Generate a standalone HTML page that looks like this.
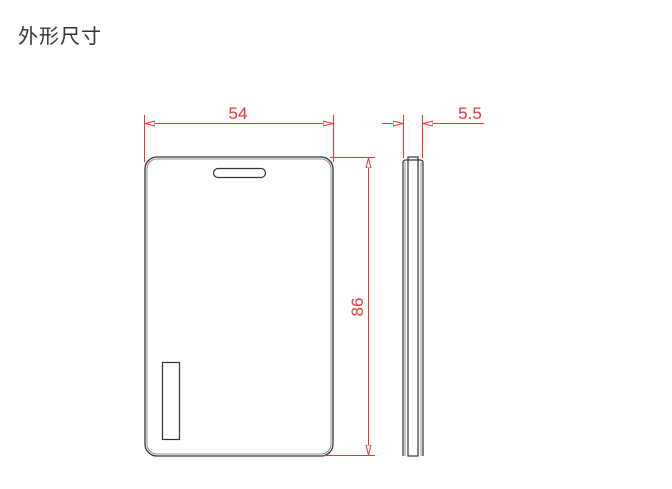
<!DOCTYPE html>
<html><head><meta charset="utf-8"><style>
html,body{margin:0;padding:0;background:#fff;width:672px;height:489px;overflow:hidden}
.t{position:absolute;left:18px;top:20px;font:20px "Liberation Sans","Noto Sans CJK SC",sans-serif;color:#333;letter-spacing:1px}
</style></head><body>
<div class="t">外形尺寸</div>
<svg width="672" height="489" style="position:absolute;left:0;top:0" xmlns="http://www.w3.org/2000/svg">
<defs>
<marker id="a" viewBox="0 0 10 6" refX="10" refY="3" markerWidth="10" markerHeight="6" markerUnits="userSpaceOnUse" orient="auto-start-reverse"><path d="M0,0.5 L10,3 L0,5.5 Z" fill="#fff" stroke="#e33" stroke-width="1"/></marker>
</defs>
<g fill="none" stroke="#333">
<rect x="145" y="157" width="188" height="299" rx="12" stroke-width="1.3"/>
<rect x="147" y="159" width="184" height="295" rx="10" stroke-width="0.8" stroke="#777"/>
<rect x="213.5" y="168.5" width="52" height="9" rx="4.5" stroke-width="1.2"/>
<rect x="162.5" y="362.5" width="17" height="77" stroke-width="1.2"/>
<path d="M403,456 V163 Q403,160 406,160 H420 Q423,160 423,163 V456" stroke-width="1.2"/>
<path d="M405,456 V162 M421,456 V162" stroke-width="0.8" stroke="#777"/>
<rect x="408" y="157" width="10" height="299" stroke-width="1.2"/>
</g>
<g stroke="#e33" stroke-width="1" fill="none">
<line x1="144.5" y1="115" x2="144.5" y2="162"/>
<line x1="333.5" y1="115" x2="333.5" y2="162"/>
<line x1="145" y1="123.5" x2="333" y2="123.5" marker-start="url(#a)" marker-end="url(#a)"/>
<line x1="330" y1="157.5" x2="375" y2="157.5"/>
<line x1="323" y1="455.5" x2="375" y2="455.5"/>
<line x1="368.5" y1="158" x2="368.5" y2="455" marker-start="url(#a)" marker-end="url(#a)"/>
<line x1="403.5" y1="115" x2="403.5" y2="158"/>
<line x1="422.5" y1="115" x2="422.5" y2="158"/>
<line x1="382" y1="123.5" x2="403" y2="123.5" marker-end="url(#a)"/>
<line x1="484" y1="123.5" x2="423" y2="123.5" marker-end="url(#a)"/>
</g>
<g fill="#e33" font-family="Liberation Sans,sans-serif" font-size="17" text-anchor="middle">
<text x="238" y="119">54</text>
<text x="470" y="119">5.5</text>
<text x="0" y="0" transform="translate(363,307) rotate(-90)">86</text>
</g>
</svg>
</body></html>
